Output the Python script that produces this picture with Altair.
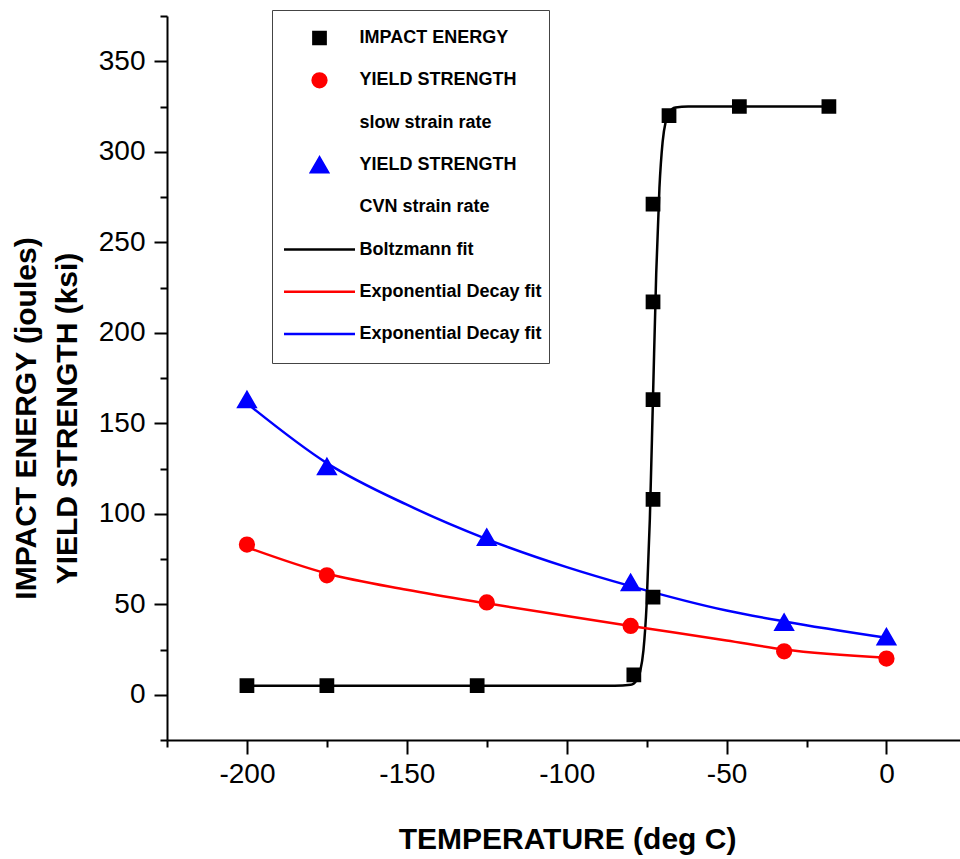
import altair as alt
import pandas as pd

# Charpy impact energy (J) against test temperature
impact_temp = [-200, -175, -128, -79, -73, -73, -73, -73, -73, -68, -46, -18]
impact_energy = [5, 5, 5, 11, 54, 108, 163, 217, 271, 320, 325, 325]

# Yield strength (ksi), slow strain rate
ys_slow_temp = [-200, -175, -125, -80, -32, 0]
ys_slow = [83, 66, 51, 38, 24, 20]

# Yield strength (ksi), CVN strain rate
ys_cvn_temp = [-200, -175, -125, -80, -32, 0]
ys_cvn = [163, 126, 87, 62, 40, 32]

# Fitted curves
boltz_temp = [-200, -128, -85, -80, -78, -77, -76, -75, -74, -73, -72, -71,
              -70, -69, -68, -66, -62, -46, -18]
boltz_val = [5, 5, 5, 5.5, 8.4, 13, 24.5, 50, 97, 165, 233, 280,
             305.5, 317, 321.5, 324.5, 325, 325, 325]
expfit_temp = [-200, -175, -150, -125, -100, -80, -50, -32, 0]
exp_slow_val = [81.5, 67, 58, 50.5, 43.5, 38, 30, 25, 20.5]
exp_cvn_val = [161, 128, 105, 86, 70.5, 60, 46.5, 40.5, 31.5]

# Legend entries (trailing space / nbsp keep duplicate-looking labels distinct)
series_names = ["IMPACT ENERGY", "YIELD STRENGTH", "slow strain rate",
                "YIELD STRENGTH ", "\u00a0CVN strain rate", "Boltzmann fit",
                "Exponential Decay fit", "Exponential Decay fit "]
series_colors = ["black", "red", "transparent", "blue", "transparent",
                 "black", "red", "blue"]
series_shapes = ["square", "circle", "circle", "triangle-up", "circle",
                 "stroke", "stroke", "stroke"]
series_sizes = [150, 190, 10, 290, 10, 5041, 5041, 5041]

points = pd.concat([
    pd.DataFrame({"series": series_names[0], "temp": impact_temp, "value": impact_energy}),
    pd.DataFrame({"series": series_names[1], "temp": ys_slow_temp, "value": ys_slow}),
    pd.DataFrame({"series": series_names[3], "temp": ys_cvn_temp, "value": ys_cvn}),
])
fits = pd.concat([
    pd.DataFrame({"series": series_names[5], "color": series_colors[5],
                  "temp": boltz_temp, "value": boltz_val}),
    pd.DataFrame({"series": series_names[6], "color": series_colors[6],
                  "temp": expfit_temp, "value": exp_slow_val}),
    pd.DataFrame({"series": series_names[7], "color": series_colors[7],
                  "temp": expfit_temp, "value": exp_cvn_val}),
])

FONT = "Liberation Sans"

x_axis = alt.Axis(
    values=list(range(-225, 1, 25)),
    labelExpr="datum.value % 50 === 0 ? '' + datum.value : ''",
    tickSize={"condition": {"test": "datum.value % 50 === 0", "value": 14}, "value": 7},
    labelPadding=6,
    titleFontSize=30, titleFontWeight="bold", titleFont=FONT,
    titleX=400, titleY=108, titleBaseline="alphabetic",
)
y_axis = alt.Axis(
    values=list(range(-25, 376, 25)),
    labelExpr="datum.value % 50 === 0 ? '' + datum.value : ''",
    tickSize={"condition": {"test": "datum.value % 50 === 0", "value": 13}, "value": 7},
    labelPadding=9,
    titleFontSize=30, titleFontWeight="bold", titleFont=FONT,
    titleAngle=270, titleX=-141, titleY=402, titleAlign="center",
    titleBaseline="middle", titleLineHeight=41,
)

x_enc = alt.X("temp:Q", title="TEMPERATURE (deg C)",
              scale=alt.Scale(domain=[-225, 23], nice=False, zero=False), axis=x_axis)
y_enc = alt.Y("value:Q", title=["IMPACT ENERGY (joules)", "YIELD STRENGTH (ksi)"],
              scale=alt.Scale(domain=[-25, 375], nice=False, zero=False), axis=y_axis)

legend = alt.Legend(
    title=None, orient="none", legendX=105, legendY=-6,
    padding=7, clipHeight=42, rowPadding=0.3, symbolOffset=3.5, labelOffset=3,
    labelFont=FONT, labelFontSize=18, labelFontWeight="bold", labelColor="black",
    labelLimit=400, strokeColor="#444", fillColor="white", symbolStrokeWidth=2.5,
)

color_scale = alt.Scale(domain=series_names, range=series_colors)

# fit curves take their colour straight from the data (no scale, no legend)
fit_lines = alt.Chart(fits).mark_line(strokeWidth=2.5, interpolate="monotone").encode(
    x=x_enc, y=y_enc,
    stroke=alt.Stroke("color:N", scale=None),
    detail="series:N",
)

markers = alt.Chart(points).mark_point(filled=True, opacity=1, strokeWidth=2.5).encode(
    x=x_enc, y=y_enc,
    fill=alt.Fill("series:N", scale=color_scale, legend=legend),
    stroke=alt.Stroke("series:N", scale=color_scale, legend=legend),
    shape=alt.Shape("series:N", scale=alt.Scale(domain=series_names, range=series_shapes), legend=legend),
    size=alt.Size("series:N", scale=alt.Scale(type="ordinal", domain=series_names, range=series_sizes), legend=legend),
)

chart = alt.layer(fit_lines, markers).properties(
    width=793, height=724,
    padding={"left": 167, "top": 16, "right": 0, "bottom": 119},
    autosize=alt.AutoSizeParams(type="none"),
    background="white",
).configure_view(stroke=None).configure_axis(
    grid=False, domainColor="black", domainWidth=2, tickColor="black", tickWidth=2,
    labelFont=FONT, labelFontSize=28, labelColor="black", titleColor="black",
)

chart.save("out.html", embed_options={"renderer": "svg", "actions": False})
